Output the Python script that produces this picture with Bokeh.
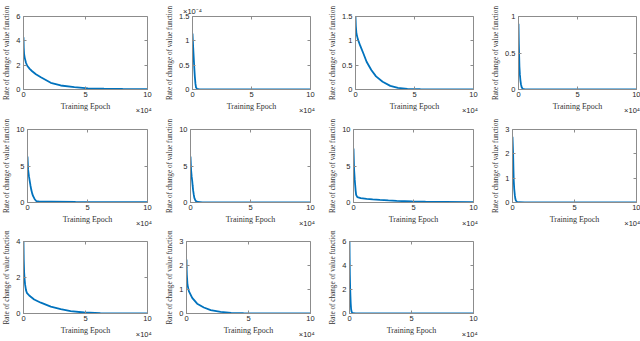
from bokeh.plotting import figure
from bokeh.layouts import column, row
from bokeh.models import Range1d, FixedTicker, LinearAxis
from bokeh.embed import file_html
from bokeh.resources import INLINE

# ---- data (epochs in units of 10^4) ----
x1 = [0, 0.02, 0.05, 0.1, 0.2, 0.3, 0.5, 0.7, 1.0, 1.4, 2.2, 3.0, 4.1, 5.2, 6.5, 8, 10]
y1 = [4.3, 3.4, 2.9, 2.6, 2.2, 1.95, 1.7, 1.5, 1.25, 1.0, 0.55, 0.33, 0.19, 0.1, 0.06, 0.04, 0.03]

x2 = [0, 0.03, 0.06, 0.1, 0.15, 0.2, 0.25, 0.3, 0.4, 0.6, 1, 10]
y2 = [1.15, 1.0, 0.85, 0.67, 0.45, 0.26, 0.12, 0.04, 0.01, 0.003, 0.001, 0.0]  # x 10^-4

x3 = [0, 0.03, 0.08, 0.19, 0.4, 0.67, 0.94, 1.34, 1.74, 2.3, 2.95, 3.6, 4.4, 5.5, 7, 10]
y3 = [1.5, 1.3, 1.15, 1.04, 0.9, 0.74, 0.57, 0.4, 0.27, 0.16, 0.075, 0.034, 0.014, 0.006, 0.003, 0.002]

x4 = [0, 0.03, 0.08, 0.12, 0.16, 0.21, 0.27, 0.35, 0.5, 1, 10]
y4 = [0.9, 0.62, 0.31, 0.2, 0.13, 0.07, 0.03, 0.01, 0.004, 0.002, 0.001]

x5 = [0, 0.05, 0.12, 0.19, 0.25, 0.32, 0.39, 0.46, 0.6, 0.73, 1.0, 2.0, 4, 7, 10]
y5 = [6.3, 4.5, 3.6, 2.9, 2.3, 1.7, 1.25, 0.9, 0.45, 0.2, 0.12, 0.1, 0.07, 0.05, 0.04]

x6 = [0, 0.05, 0.1, 0.14, 0.18, 0.22, 0.27, 0.32, 0.39, 0.46, 0.6, 1, 10]
y6 = [6.3, 4.4, 3.5, 3.0, 2.3, 1.65, 1.1, 0.64, 0.35, 0.18, 0.07, 0.03, 0.01]

x7 = [0, 0.05, 0.1, 0.14, 0.18, 0.22, 0.32, 0.6, 1.1, 1.6, 2.2, 2.9, 3.6, 4.9, 6, 7.6, 10]
y7 = [7.4, 4.5, 3.2, 2.4, 1.6, 1.05, 0.73, 0.6, 0.5, 0.43, 0.36, 0.29, 0.23, 0.14, 0.1, 0.08, 0.05]

x8 = [0, 0.05, 0.08, 0.1, 0.14, 0.19, 0.23, 0.27, 0.35, 0.5, 1, 10]
y8 = [2.7, 2.0, 1.3, 0.9, 0.55, 0.29, 0.15, 0.08, 0.03, 0.01, 0.005, 0.002]

x9 = [0, 0.02, 0.05, 0.09, 0.13, 0.2, 0.27, 0.46, 0.86, 1.4, 2.2, 3.0, 3.8, 4.9, 6.2, 8, 10]
y9 = [4.0, 3.0, 2.3, 1.9, 1.6, 1.3, 1.15, 1.0, 0.78, 0.6, 0.38, 0.24, 0.13, 0.055, 0.02, 0.012, 0.01]

x10 = [0, 0.01, 0.03, 0.08, 0.19, 0.46, 0.86, 1.4, 1.95, 2.75, 3.6, 4.6, 6, 8, 10]
y10 = [2.25, 1.9, 1.6, 1.2, 0.93, 0.65, 0.41, 0.25, 0.14, 0.07, 0.03, 0.01, 0.005, 0.003, 0.002]

x11 = [0, 0.01, 0.03, 0.05, 0.08, 0.1, 0.13, 0.17, 0.22, 0.3, 0.5, 10]
y11 = [5.95, 4.8, 3.2, 2.2, 1.3, 0.8, 0.35, 0.15, 0.05, 0.02, 0.005, 0.001]

y_max = [6, 1.5, 1.5, 1, 10, 10, 10, 3, 4, 3, 6]
y_ticks = [[0, 2, 4, 6], [0, 0.5, 1, 1.5], [0, 0.5, 1, 1.5], [0, 0.5, 1],
           [0, 5, 10], [0, 5, 10], [0, 5, 10], [0, 1, 2, 3],
           [0, 2, 4], [0, 1, 2, 3], [0, 2, 4, 6]]
y_tick_labels = [["0", "2", "4", "6"], ["0", "0.5", "1", "1.5"], ["0", "0.5", "1", "1.5"], ["0", "0.5", "1"],
                 ["0", "5", "10"], ["0", "5", "10"], ["0", "5", "10"], ["0", "1", "2", "3"],
                 ["0", "2", "4"], ["0", "1", "2", "3"], ["0", "2", "4", "6"]]
x_min, x_max = 0, 10
x_ticks = [0, 5, 10]
x_tick_labels = ["0", "5", "10"]
y_exponent = [None, "\u00d710\u207b\u2074", None, None, None, None, None, None, None, None, None]
x_exponent = "\u00d710\u2074"
x_label = "Training Epoch"
y_label = "Rate of change of value function"

xs = [x1, x2, x3, x4, x5, x6, x7, x8, x9, x10, x11]
ys = [y1, y2, y3, y4, y5, y6, y7, y8, y9, y10, y11]

FRAME_W = 124
FRAME_H = 74
ROW_TOP = [16, 12, 11]
ROW_BOTTOM = [27, 27, 26]
GRAY = "#8c8c8c"
BLUE = "#0072BD"
TEXT = "#262626"
TICK_FONT = "Liberation Sans"
LABEL_FONT = "Liberation Serif"


def style_axis(ax):
    ax.major_tick_in = 3
    ax.major_tick_out = 0
    ax.minor_tick_in = 0
    ax.minor_tick_out = 0
    ax.minor_tick_line_color = None
    ax.axis_line_color = GRAY
    ax.major_tick_line_color = GRAY
    ax.major_label_text_font = TICK_FONT
    ax.major_label_text_font_size = "7.5px"
    ax.major_label_text_color = TEXT
    ax.axis_label_text_font = LABEL_FONT
    ax.axis_label_text_font_style = "normal"
    ax.axis_label_text_color = "#333333"


def make(i, col, r):
    left = 23
    right = 16 if col < 3 else 4
    top = ROW_TOP[r]
    bottom = ROW_BOTTOM[r]
    p = figure(width=left + FRAME_W + right, height=top + FRAME_H + bottom,
               x_range=Range1d(x_min, x_max), y_range=Range1d(0, y_max[i]),
               output_backend="svg", toolbar_location=None,
               min_border_left=left, min_border_right=right,
               min_border_top=top, min_border_bottom=bottom)
    p.line(xs[i], ys[i], line_color=BLUE, line_width=1.8)
    p.grid.visible = False
    p.outline_line_color = GRAY
    for ax in p.axis:
        style_axis(ax)
    p.xaxis.ticker = FixedTicker(ticks=x_ticks)
    p.xaxis.major_label_overrides = {t: s for t, s in zip(x_ticks, x_tick_labels)}
    p.xaxis.axis_label = x_label
    p.xaxis.axis_label_text_font_size = "8px"
    p.xaxis.major_label_standoff = 2
    p.xaxis.axis_label_standoff = 2
    p.yaxis.ticker = FixedTicker(ticks=y_ticks[i])
    p.yaxis.major_label_overrides = {t: s for t, s in zip(y_ticks[i], y_tick_labels[i])}
    p.yaxis.axis_label = y_label
    p.yaxis.axis_label_text_font_size = "7.2px"
    p.yaxis.major_label_standoff = 3
    p.yaxis.axis_label_standoff = 2

    # x10^4 multiplier under the right end of the x axis
    ex = LinearAxis(ticker=FixedTicker(ticks=[9.7]), major_label_overrides={9.7: x_exponent})
    style_axis(ex)
    ex.axis_line_color = None
    ex.major_tick_line_color = None
    ex.major_label_text_align = "right"
    ex.major_label_standoff = -8
    p.add_layout(ex, "below")

    # x10^-4 multiplier above the y axis
    if y_exponent[i]:
        ey = LinearAxis(ticker=FixedTicker(ticks=[x_min]),
                        major_label_overrides={x_min: y_exponent[i]})
        style_axis(ey)
        ey.axis_line_color = None
        ey.major_tick_line_color = None
        ey.major_label_text_align = "left"
        ey.major_label_standoff = 1
        p.add_layout(ey, "above")

    # box ticks on top and right (MATLAB style), pinned to the frame edges
    ta = LinearAxis(ticker=FixedTicker(ticks=x_ticks),
                    major_label_overrides={t: "" for t in x_ticks},
                    fixed_location=y_max[i])
    style_axis(ta)
    ta.major_label_standoff = 0
    p.add_layout(ta, "above")
    ra = LinearAxis(ticker=FixedTicker(ticks=y_ticks[i]),
                    major_label_overrides={t: "" for t in y_ticks[i]},
                    fixed_location=x_max)
    style_axis(ra)
    ra.major_label_standoff = 0
    p.add_layout(ra, "right")
    return p


figs = [make(i, i % 4, i // 4) for i in range(11)]

layout = column(row(*figs[0:4], spacing=0), row(*figs[4:8], spacing=0),
                row(*figs[8:11], spacing=0), spacing=0)

open("out.html", "w").write(file_html(layout, INLINE))
